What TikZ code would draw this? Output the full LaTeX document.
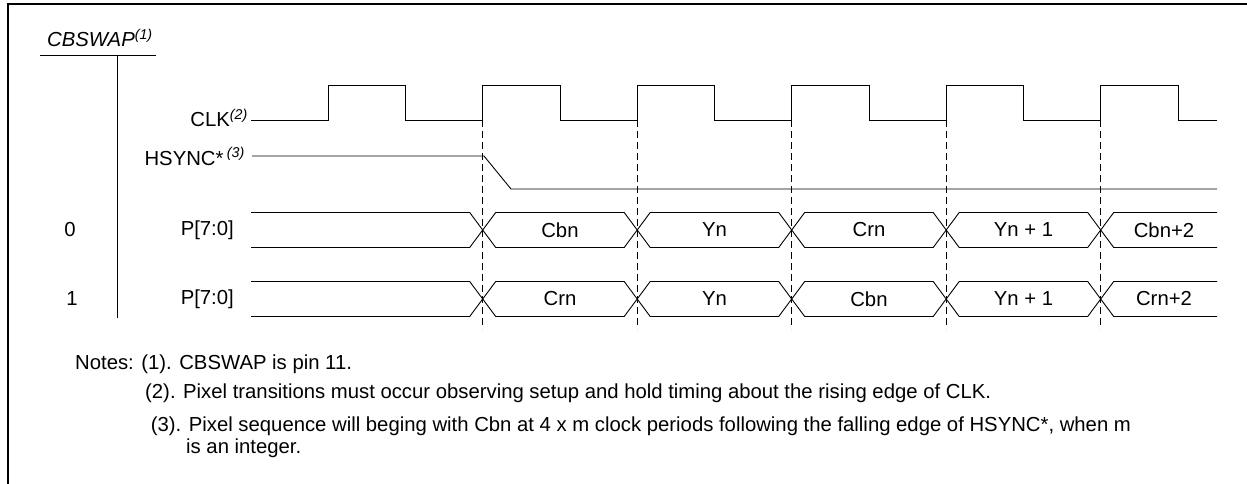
\documentclass[tikz,border=0pt]{standalone}
\usepackage{fontspec}
\setmainfont{Liberation Sans}
\newcommand{\fnmark}[1]{\textsuperscript{\itshape(#1)}}
\begin{document}
\begin{tikzpicture}[x=1pt,y=-1pt,
    sig/.style={line width=0.9pt},
    guide/.style={line width=0.8pt,dash pattern=on 7pt off 4pt},
    lbl/.style={inner sep=0pt,font=\fontsize{20.3}{24}\selectfont},
    note/.style={lbl,anchor=base west}]
    \useasboundingbox (0,0) rectangle (1247,484);
    \def\per{154.5}
    \def\tz{482.7}
    \def\sk{13}

    % frame
    \draw[line width=2pt] (8.3,484) -- (8.3,4) -- (1247,4);

    % CBSWAP column
    \node[lbl,anchor=base west] (cbswap) at (47,47) {\itshape CBSWAP\fnmark{1}};
    \draw[sig] (40,55) -- (156,55);
    \draw[sig] (117.3,55) -- (117.3,318);
    \node[lbl] (selA) at (70,230) {0};
    \node[lbl] (selB) at (72,299) {1};

    % signal names
    \node[lbl,anchor=base east] (clk) at (248,127) {CLK\fnmark{2}};
    \node[lbl,anchor=base east] (hsync) at (245,165) {HSYNC*\,\fnmark{3}};
    \node[lbl,anchor=east] (pA) at (234,230) {P[7:0]};
    \node[lbl,anchor=east] (pB) at (234,299) {P[7:0]};

    % clock
    \draw[sig] (251,120) \foreach \i in {-1,...,4} {
        -- ({\tz+\i*\per},120) -- ({\tz+\i*\per},85)
        -- ({\tz+(\i+0.5)*\per},85) -- ({\tz+(\i+0.5)*\per},120) } -- (1217,120);

    % hsync
    \draw[sig] (252,156) -- (484,156) -- (511,189) -- (1217,189);

    % dashed edges
    \foreach \i in {0,...,4}
        \draw[guide] ({\tz+\i*\per},120) -- ({\tz+\i*\per},329);

    % pixel buses
    \foreach \yt/\yb in {212.5/247.5, 281.5/316.5} {
        \draw[sig] (251,\yt) -- ({\tz-\sk},\yt) -- (\tz,{(\yt+\yb)/2})
            -- ({\tz-\sk},\yb) -- (251,\yb);
        \foreach \i in {0,...,3}
            \draw[sig] ({\tz+\i*\per},{(\yt+\yb)/2}) -- ({\tz+\i*\per+\sk},\yt)
                -- ({\tz+(\i+1)*\per-\sk},\yt) -- ({\tz+(\i+1)*\per},{(\yt+\yb)/2})
                -- ({\tz+(\i+1)*\per-\sk},\yb) -- ({\tz+\i*\per+\sk},\yb) -- cycle;
        \draw[sig] (1217,\yt) -- ({\tz+4*\per+\sk},\yt) -- ({\tz+4*\per},{(\yt+\yb)/2})
            -- ({\tz+4*\per+\sk},\yb) -- (1217,\yb);
    }
    \foreach \i/\a/\b in {0/Cbn/Crn, 1/Yn/Yn, 2/Crn/Cbn, 3/Yn + 1/Yn + 1} {
        \node[lbl] (dA\i) at ({\tz+(\i+0.5)*\per},230) {\a};
        \node[lbl] (dB\i) at ({\tz+(\i+0.5)*\per},299) {\b};
    }
    \node[lbl] (dA4) at (1164,230) {Cbn+2};
    \node[lbl] (dB4) at (1164,299) {Crn+2};

    % notes
    \node[note] (nOne) at (75,369) {Notes: (1). CBSWAP is pin 11.};
    \node[note] (nTwo) at (145,398) {(2). Pixel transitions must occur observing setup and hold timing about the rising edge of CLK.};
    \node[note] (nThree) at (150.7,431.7) {(3). Pixel sequence will beging with Cbn at 4 x m clock periods following the falling edge of HSYNC*, when m};
    \node[note] (nFour) at (186,453) {is an integer.};
\end{tikzpicture}
\end{document}
